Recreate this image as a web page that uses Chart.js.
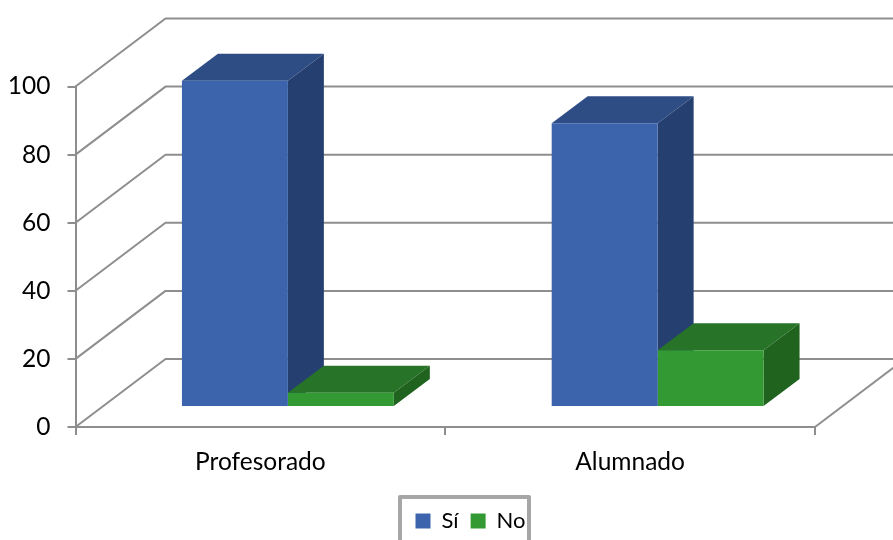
<!DOCTYPE html>
<html>
<head>
<meta charset="utf-8">
<style>html,body{margin:0;padding:0;background:#fff}canvas{display:block}</style>
<script src="https://cdn.jsdelivr.net/npm/chart.js@4"></script>
</head>
<body>
<canvas id="c" width="893" height="540"></canvas>
<script>
const categories = ['Profesorado', 'Alumnado'];
const siValues = [95.8, 83.3];
const noValues = [4.2, 16.7];
const tickStep = 20;
const axisMax = 100;

const wall = {dx: 90, dy: 68};
const barShift = {dx: 27.5, dy: 20};
const barDepth = {dx: 36, dy: 27};
const gridColor = '#8e8e8e';
const fontFamily = 'Lato, "Open Sans", sans-serif';
const fontSize = 24.5;
const legendFontSize = 22;
const legendPad = 12;
const colours = {
  si: {front: '#3b64ad', top: '#2e4d85', side: '#254070'},
  no: {front: '#339933', top: '#277327', side: '#1f631f'}
};
const faces = [colours.si, colours.no];

const poly = (ctx, pts, fill) => {
  ctx.beginPath();
  pts.forEach((p, i) => i ? ctx.lineTo(p[0], p[1]) : ctx.moveTo(p[0], p[1]));
  ctx.closePath();
  ctx.fillStyle = fill;
  ctx.fill();
};

const scene3d = {
  id: 'scene3d',
  afterLayout(chart) {
    const lg = chart.legend;
    const current = (lg.left + legendPad + lg.right - lg.lineWidths[0]) / 2;
    const dx = 415.5 - current;
    lg.left += dx; lg.right += dx;
    lg.top += 2; lg.bottom += 2;
  },
  beforeDatasetsDraw(chart) {
    const {ctx, scales: {x, y}, chartArea: a} = chart;
    ctx.save();
    ctx.strokeStyle = gridColor;
    ctx.lineWidth = 2;
    ctx.lineJoin = 'round';
    y.ticks.forEach(t => {
      const py = y.getPixelForValue(t.value);
      ctx.beginPath();
      ctx.moveTo(a.left, py);
      ctx.lineTo(a.left + wall.dx, py - wall.dy);
      ctx.lineTo(chart.width, py - wall.dy);
      ctx.stroke();
    });
    const py0 = y.getPixelForValue(0);
    ctx.beginPath();
    ctx.moveTo(a.right, py0);
    ctx.lineTo(a.right + wall.dx, py0 - wall.dy);
    ctx.stroke();
    ctx.translate(barShift.dx, -barShift.dy);
    chart.data.datasets.forEach((ds, i) => {
      chart.getDatasetMeta(i).data.forEach(b => {
        const l = b.x - b.width / 2, r = b.x + b.width / 2;
        const d = barDepth;
        poly(ctx, [[l, b.y], [r, b.y], [r + d.dx, b.y - d.dy], [l + d.dx, b.y - d.dy]], faces[i].top);
        poly(ctx, [[r, b.y], [r, b.base], [r + d.dx, b.base - d.dy], [r + d.dx, b.y - d.dy]], faces[i].side);
      });
    });
    ctx.restore();
  },
  beforeDatasetDraw(chart) {
    chart.ctx.save();
    chart.ctx.translate(barShift.dx, -barShift.dy);
  },
  afterDatasetDraw(chart) {
    chart.ctx.restore();
  },
  afterDraw(chart) {
    const {ctx} = chart;
    ctx.save();
    ctx.strokeStyle = '#a6a6a6';
    ctx.lineWidth = 4;
    ctx.lineJoin = 'round';
    ctx.strokeRect(400, 497, 129, 70);
    ctx.restore();
  }
};

new Chart(document.getElementById('c'), {
  type: 'bar',
  data: {
    labels: categories,
    datasets: [
      {label: 'Sí', data: siValues, backgroundColor: colours.si.front, clip: false,
       categoryPercentage: 0.573, barPercentage: 1},
      {label: 'No', data: noValues, backgroundColor: colours.no.front, clip: false,
       categoryPercentage: 0.573, barPercentage: 1}
    ]
  },
  options: {
    responsive: false,
    animation: false,
    layout: {padding: {top: 86.5, right: 78, left: 0, bottom: 0}},
    scales: {
      x: {
        offset: true,
        afterFit(s) { s.height = 69; },
        grid: {offset: true, drawOnChartArea: false, color: gridColor, lineWidth: 2, tickLength: 8},
        border: {display: true, color: gridColor, width: 2},
        ticks: {color: '#000', font: {family: fontFamily, size: fontSize}, padding: 12, maxRotation: 0}
      },
      y: {
        min: 0, max: axisMax,
        afterFit(s) { s.width = 75.5; },
        grid: {drawOnChartArea: false, color: gridColor, lineWidth: 2, tickLength: 8},
        border: {display: true, color: gridColor, width: 2},
        ticks: {stepSize: tickStep, color: '#000', font: {family: fontFamily, size: fontSize}, padding: 17}
      }
    },
    plugins: {
      title: {display: false},
      tooltip: {enabled: false},
      legend: {
        position: 'bottom',
        labels: {boxWidth: 15, boxHeight: 15, padding: legendPad, color: '#000',
                 font: {family: fontFamily, size: legendFontSize}}
      }
    }
  },
  plugins: [scene3d]
});
</script>
</body>
</html>
